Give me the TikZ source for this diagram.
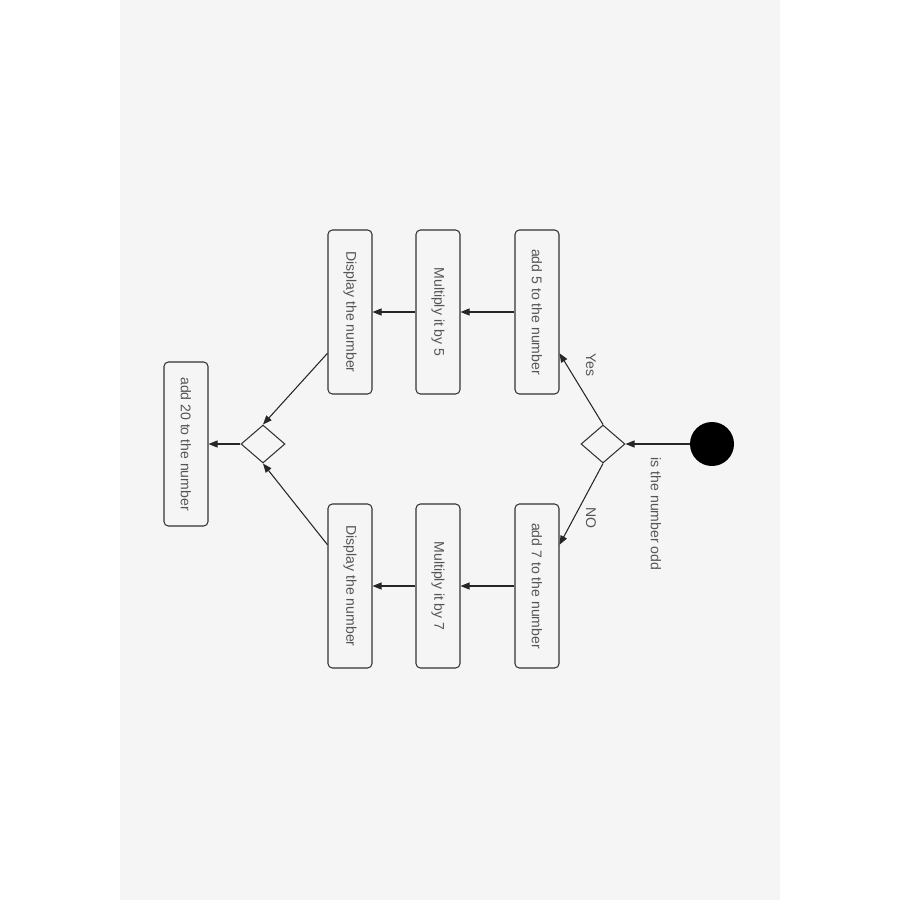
\documentclass[tikz,border=0pt]{standalone}
\usepackage{fontspec}
\setmainfont{Liberation Sans}
\usepackage{xcolor}
\usetikzlibrary{arrows.meta,calc,shapes.geometric}
\definecolor{pagegray}{HTML}{F5F5F5}
\definecolor{textgray}{HTML}{555555}
\definecolor{edgegray}{HTML}{333333}

\begin{document}
\begin{tikzpicture}[
  >={Triangle[length=1.8mm,width=1.4mm]},
  font=\fontsize{8}{9.6}\selectfont,
  stepbox/.style={draw=edgegray, fill=pagegray, rounded corners=2.5pt,
                  line width=0.6pt, rotate=-90, text=textgray,
                  minimum width=3.28cm, minimum height=0.88cm, inner sep=0pt},
  choice/.style={draw=edgegray, fill=pagegray, diamond, line width=0.6pt,
                 minimum width=0.88cm, minimum height=0.76cm, inner sep=0pt},
  lbl/.style={rotate=-90, text=textgray, inner sep=1pt},
  flow/.style={->, line width=0.6pt, draw=black!85},
]

%--- page and margins --------------------------------------------------------
\useasboundingbox (0,0) rectangle (18,-18);
\fill[white] (0,0) rectangle (18,-18);
\fill[pagegray] (2.4,0) rectangle (15.6,-18);

%--- start and first decision ------------------------------------------------
\node[circle, fill=black, minimum size=0.88cm, inner sep=0pt] (start) at (14.24,-8.88) {};
\node[choice] (odd) at (12.06,-8.88) {};
\node[lbl] (oddlbl) at (13.12,-10.28) {is the number odd};

%--- odd branch ---------------------------------------------------------------
\node[stepbox] (addfive)  at (10.74,-6.24) {add 5 to the number};
\node[stepbox] (mulfive)  at (8.76,-6.24)  {Multiply it by 5};
\node[stepbox] (showfive) at (7.00,-6.24)  {Display the number};

%--- even branch --------------------------------------------------------------
\node[stepbox] (addseven)  at (10.74,-11.72) {add 7 to the number};
\node[stepbox] (mulseven)  at (8.76,-11.72)  {Multiply it by 7};
\node[stepbox] (showseven) at (7.00,-11.72)  {Display the number};

%--- merge and last step ------------------------------------------------------
\node[choice] (merge) at (5.26,-8.88) {};
\node[stepbox] (addtwenty) at (3.72,-8.88) {add 20 to the number};

%--- branch labels ------------------------------------------------------------
\node[lbl] (yes) at (11.82,-7.30) {Yes};
\node[lbl] (no)  at (11.82,-10.36) {NO};

%--- connectors ---------------------------------------------------------------
\draw[flow] (start) -- (odd);
\draw[flow] (odd.north) -- ($(addfive.north)!0.5!(addfive.north east)$);
\draw[flow] (odd.south) -- ($(addseven.north)!0.5!(addseven.north west)$);
\draw[flow] (addfive) -- (mulfive);
\draw[flow] (mulfive) -- (showfive);
\draw[flow] (addseven) -- (mulseven);
\draw[flow] (mulseven) -- (showseven);
\draw[flow] ($(showfive.south)!0.5!(showfive.south east)$) -- (merge.north);
\draw[flow] ($(showseven.south)!0.5!(showseven.south west)$) -- (merge.south);
\draw[flow] (merge) -- (addtwenty);

\end{tikzpicture}
\end{document}
